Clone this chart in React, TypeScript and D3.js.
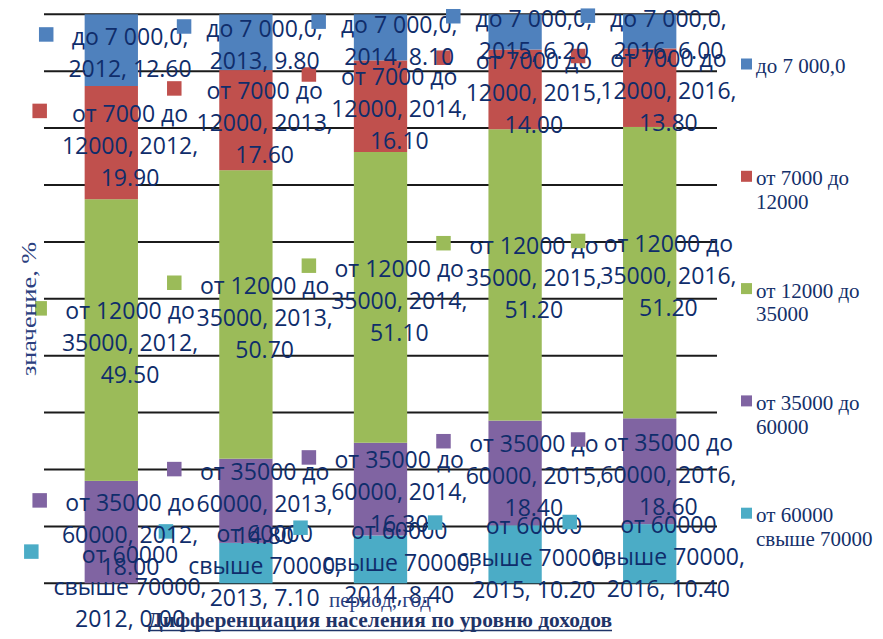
import React from 'react';
import * as d3 from 'd3';

// Income groups, bottom of the stack first
const seriesNames = [
  'от 60000 свыше 70000',
  'от 35000 до 60000',
  'от 12000 до 35000',
  'от 7000 до 12000',
  'до 7 000,0',
];
const seriesColors = ['#4BACC6', '#8064A2', '#9BBB59', '#C0504D', '#4F81BD'];

const years = ['2012', '2013', '2014', '2015', '2016'];

// Share of population, %
const over60000 = [0.0, 7.1, 8.4, 10.2, 10.4];
const from35000to60000 = [18.0, 14.8, 16.3, 18.4, 18.6];
const from12000to35000 = [49.5, 50.7, 51.1, 51.2, 51.2];
const from7000to12000 = [19.9, 17.6, 16.1, 14.0, 13.8];
const upTo7000 = [12.6, 9.8, 8.1, 6.2, 6.0];

const gridValues = [0, 10, 20, 30, 40, 50, 60, 70, 80, 90, 100];

const W = 883;
const H = 639;
const plot = { left: 44, right: 717, top: 14.3, bottom: 583.3 };

const LABEL_FONT = "23px 'Open Sans'";
const LABEL_COLOR = '#0f2d6b';
const LABEL_LINE = 32;
const KEY = 14.5;

const seriesValues = [over60000, from35000to60000, from12000to35000, from7000to12000, upTo7000];

// Greedy word wrap by character count
function wrap(text: string, maxChars: number): string[] {
  const words = text.split(' ');
  const lines: string[] = [];
  let cur = '';
  for (const w of words) {
    const next = cur ? cur + ' ' + w : w;
    if (cur && next.length > maxChars) {
      lines.push(cur);
      cur = w;
    } else {
      cur = next;
    }
  }
  if (cur) lines.push(cur);
  return lines;
}

let measureCtx: CanvasRenderingContext2D | null = null;
function measure(text: string, font: string): number {
  if (!measureCtx) measureCtx = document.createElement('canvas').getContext('2d');
  if (!measureCtx) return text.length * 12;
  measureCtx.font = font;
  return measureCtx.measureText(text).width;
}

export default function App() {
  const rows = years.map((year, i) => {
    const r: Record<string, number | string> = { year };
    seriesNames.forEach((name, s) => {
      r[name] = seriesValues[s][i];
    });
    return r;
  });

  const stacked = d3.stack<Record<string, number | string>>().keys(seriesNames)(rows as any);

  const x = d3
    .scaleBand<string>()
    .domain(years)
    .range([plot.left, plot.right])
    .paddingInner(0.604)
    .paddingOuter(0.302);
  const y = d3.scaleLinear().domain([0, 100]).range([plot.bottom, plot.top]);

  const legendOrder = seriesNames.map((_, i) => i).reverse();

  return (
    <svg
      width={W}
      height={H}
      viewBox={`0 0 ${W} ${H}`}
      style={{ position: 'absolute', left: 0, top: 0, background: '#fff' }}
    >
      <rect x={0} y={0} width={W} height={H} fill="#fff" />

      {/* horizontal gridlines */}
      {gridValues.map((v) => (
        <line
          key={v}
          x1={plot.left}
          x2={plot.right}
          y1={y(v)}
          y2={y(v)}
          stroke="#1b1b1b"
          strokeWidth={2}
        />
      ))}

      {/* stacked columns */}
      {stacked.map((layer, s) => (
        <g key={seriesNames[s]} fill={seriesColors[s]}>
          {layer.map((d, i) => (
            <rect
              key={years[i]}
              x={x(years[i])}
              y={y(d[1])}
              width={x.bandwidth()}
              height={Math.max(0, y(d[0]) - y(d[1]))}
            />
          ))}
        </g>
      ))}

      {/* data labels with legend keys */}
      {stacked.map((layer, s) => (
        <g key={'lbl' + s}>
          {layer.map((d, i) => {
            const value = seriesValues[s][i];
            const text = `${seriesNames[s]}, ${years[i]}, ${value.toFixed(2)}`;
            const lines = wrap(text, 12);
            const maxW = Math.max(...lines.map((l) => measure(l, LABEL_FONT)));
            const cx = (x(years[i]) as number) + x.bandwidth() / 2 + 4;
            const cy = (y(d[0]) + y(d[1])) / 2 + 3;
            const boxW = KEY + 15 + maxW;
            const keyX = cx - boxW / 2;
            const textCx = keyX + KEY + 15 + maxW / 2;
            const base1 = cy - ((lines.length - 1) * LABEL_LINE) / 2 + 8.3;
            return (
              <g key={years[i]}>
                <rect
                  x={keyX}
                  y={base1 - 11 - KEY / 2}
                  width={KEY}
                  height={KEY}
                  fill={seriesColors[s]}
                />
                <text
                  textAnchor="middle"
                  fill={LABEL_COLOR}
                  style={{ font: LABEL_FONT }}
                >
                  {lines.map((l, k) => (
                    <tspan key={k} x={textCx} y={base1 + k * LABEL_LINE}>
                      {l}
                    </tspan>
                  ))}
                </text>
              </g>
            );
          })}
        </g>
      ))}

      {/* vertical axis title */}
      <rect x={16} y={238} width={19} height={142} fill="#fff" />
      <text
        transform="translate(35.5,309) rotate(-90)"
        textAnchor="middle"
        fill="#2b3f80"
        fontFamily="'Liberation Serif', 'Times New Roman', serif"
        fontSize={20}
        textLength={134}
        lengthAdjust="spacingAndGlyphs"
      >
        значение, %
      </text>

      {/* horizontal axis title */}
      <text
        x={380}
        y={607}
        textAnchor="middle"
        fill="#2b3f80"
        fontFamily="'Liberation Serif', 'Times New Roman', serif"
        fontSize={21}
      >
        период, год
      </text>

      {/* legend */}
      {legendOrder.map((s, k) => {
        const base = 73 + k * 112.3;
        const lines = wrap(seriesNames[s], 11);
        return (
          <g key={'leg' + s}>
            <rect x={741} y={base - 9 - 5.5} width={11} height={11} fill={seriesColors[s]} />
            <text
              fill="#14306a"
              fontFamily="'Liberation Serif', 'Times New Roman', serif"
              fontSize={21}
            >
              {lines.map((l, j) => (
                <tspan key={j} x={756} y={base + j * 23.6}>
                  {l}
                </tspan>
              ))}
            </text>
          </g>
        );
      })}

      {/* chart title */}
      <text
        x={380}
        y={626.5}
        textAnchor="middle"
        fill="#1f3468"
        fontFamily="'Liberation Serif', 'Times New Roman', serif"
        fontWeight="bold"
        fontSize={20}
        textLength={464}
        lengthAdjust="spacingAndGlyphs"
      >
        Дифференциация населения по уровню доходов
      </text>
      <line x1={148} x2={612} y1={630.5} y2={630.5} stroke="#1f3468" strokeWidth={1.5} />
    </svg>
  );
}
